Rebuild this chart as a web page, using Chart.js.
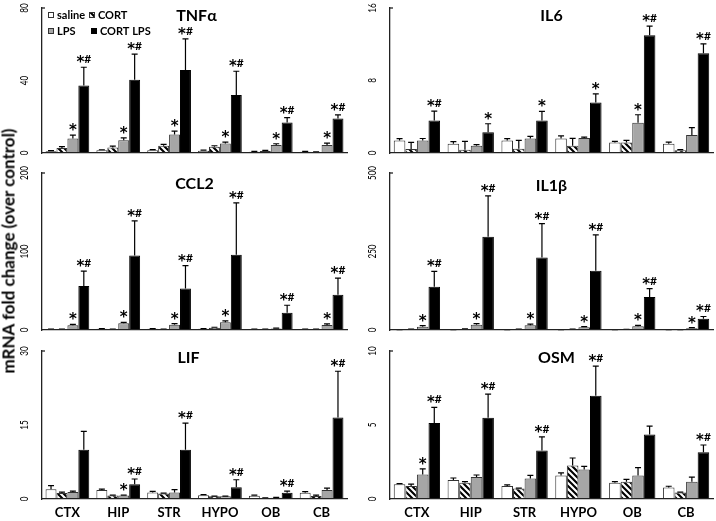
<!DOCTYPE html>
<html>
<head>
<meta charset="utf-8">
<title>Cytokine mRNA by brain region</title>
<script src="https://cdn.jsdelivr.net/npm/chart.js@4.4.1/dist/chart.umd.min.js"></script>
<style>
  body { margin: 0; background: #fff; }
  #wrap { position: relative; width: 716px; height: 521px; overflow: hidden; }
  #wrap canvas { position: absolute; }
  #ytitle {
    position: absolute; left: 8px; top: 251px;
    transform: translate(-50%, -50%) rotate(-90deg);
    white-space: nowrap; font: bold 17px Lato, sans-serif; color: #000;
  }
</style>
</head>
<body>
<div id="wrap">
  <canvas id="c0"></canvas>
  <canvas id="c1"></canvas>
  <canvas id="c2"></canvas>
  <canvas id="c3"></canvas>
  <canvas id="c4"></canvas>
  <canvas id="c5"></canvas>
  <div id="ytitle">mRNA fold change (over control)</div>
</div>
<script>
const regions = ['CTX', 'HIP', 'STR', 'HYPO', 'OB', 'CB'];
const groups = ['saline', 'CORT', 'LPS', 'CORT LPS'];

// rows: saline, CORT, LPS, CORT LPS
const tnfTicks = ['0', '40', '80'];
const tnfMean = [
      [1.0, 1.5, 1.5, 1.3, 0.7, 0.7],
      [2.7, 3.1, 4.0, 3.5, 1.1, 0.5],
      [8.0, 7.1, 10.2, 5.3, 4.4, 4.4],
      [37.3, 40.4, 45.8, 32.0, 16.8, 19.0]
];
const tnfErr = [
      [0.3, 0.3, 0.4, 0.3, 0.2, 0.2],
      [0.8, 0.7, 0.8, 0.5, 0.3, 0.2],
      [1.9, 1.3, 1.9, 0.7, 0.7, 1.1],
      [10.0, 14.2, 17.2, 13.1, 2.7, 2.0]
];
const tnfLpsMarks = ['*', '*', '*', '*', '*', '*'];
const tnfComboMarks = ['*#', '*#', '*#', '*#', '*#', '*#'];

const il6Ticks = ['0', '8', '16'];
const il6Mean = [
      [1.39, 1.03, 1.39, 1.61, 1.17, 1.03],
      [0.44, 0.37, 0.48, 0.81, 1.17, 0.29],
      [1.39, 0.81, 1.61, 1.65, 3.34, 1.98],
      [3.6, 2.28, 3.6, 5.58, 13.0, 11.0]
];
const il6Err = [
      [0.19, 0.22, 0.19, 0.29, 0.11, 0.18],
      [0.73, 0.91, 0.91, 0.8, 0.22, 0.08],
      [0.21, 0.11, 0.22, 0.11, 0.88, 0.81],
      [1.02, 0.95, 0.99, 0.95, 1.0, 1.04]
];
const il6LpsMarks = ['', '', '', '', '*', ''];
const il6ComboMarks = ['*#', '*', '*', '*', '*#', '*#'];

const ccl2Ticks = ['0', '100', '200'];
const ccl2Mean = [
      [1.0, 1.5, 1.5, 1.5, 1.0, 1.0],
      [1.0, 0.8, 1.0, 3.0, 1.0, 0.8],
      [6.0, 8.5, 6.8, 9.8, 2.0, 6.4],
      [56, 95, 53, 96, 22, 45]
];
const ccl2Err = [
      [0.3, 0.3, 0.3, 0.3, 0.2, 0.2],
      [0.3, 0.2, 0.3, 0.5, 0.2, 0.2],
      [1.2, 1.3, 1.2, 1.7, 0.5, 1.3],
      [19, 44, 29, 66, 9.5, 21]
];
const ccl2LpsMarks = ['*', '*', '*', '*', '', '*'];
const ccl2ComboMarks = ['*#', '*#', '*#', '*#', '*#', '*#'];

const il1Ticks = ['0', '250', '500'];
const il1Mean = [
      [1.0, 1.0, 1.0, 1.0, 1.0, 1.0],
      [2.0, 3.0, 2.0, 2.0, 1.5, 1.0],
      [10.7, 17.0, 15.0, 8.5, 11.7, 5.3],
      [138, 297, 231, 189, 105, 36]
];
const il1Err = [
      [0.5, 0.5, 0.5, 0.5, 0.5, 0.5],
      [1.0, 1.0, 1.0, 1.0, 0.8, 0.5],
      [3.3, 3.0, 4.0, 2.2, 3.3, 2.2],
      [49, 130, 108, 114, 27, 7]
];
const il1LpsMarks = ['*', '*', '*', '*', '*', '*'];
const il1ComboMarks = ['*#', '*#', '*#', '*#', '*#', '*#'];

const lifTicks = ['0', '15', '30'];
const lifMean = [
      [2.0, 1.8, 1.3, 0.74, 0.68, 1.28],
      [1.2, 0.7, 1.1, 0.54, 0.2, 0.6],
      [1.4, 0.7, 1.3, 0.54, 0.27, 1.8],
      [10.0, 3.0, 10.0, 2.36, 1.28, 16.5]
];
const lifErr = [
      [0.7, 0.2, 0.25, 0.14, 0.12, 0.22],
      [0.2, 0.1, 0.1, 0.06, 0.05, 0.2],
      [0.2, 0.1, 0.6, 0.06, 0.05, 0.4],
      [3.7, 1.05, 5.4, 1.54, 0.32, 9.4]
];
const lifLpsMarks = ['', '*', '', '', '', ''];
const lifComboMarks = ['', '*#', '*#', '*#', '*#', '*#'];

const osmTicks = ['0', '5', '10'];
const osmMean = [
      [1.0, 1.28, 0.88, 1.59, 1.1, 0.77],
      [0.88, 1.1, 0.71, 2.26, 1.17, 0.44],
      [1.66, 1.48, 1.39, 1.99, 1.59, 1.17],
      [5.13, 5.49, 3.27, 6.97, 4.36, 3.16]
];
const osmErr = [
      [0.04, 0.14, 0.07, 0.18, 0.07, 0.09],
      [0.12, 0.07, 0.02, 0.51, 0.16, 0.02],
      [0.38, 0.14, 0.2, 0.22, 0.53, 0.31],
      [1.06, 1.59, 0.93, 2.01, 0.57, 0.49]
];
const osmLpsMarks = ['*', '', '', '', '', ''];
const osmComboMarks = ['*#', '*#', '*#', '*#', '', '*#'];

const panels = [
      { title: 'TNFα', ticks: tnfTicks, mean: tnfMean, err: tnfErr, marks: [null, null, tnfLpsMarks, tnfComboMarks], legend: true },
      { title: 'IL6', ticks: il6Ticks, mean: il6Mean, err: il6Err, marks: [null, null, il6LpsMarks, il6ComboMarks] },
      { title: 'CCL2', ticks: ccl2Ticks, mean: ccl2Mean, err: ccl2Err, marks: [null, null, ccl2LpsMarks, ccl2ComboMarks] },
      { title: 'IL1β', ticks: il1Ticks, mean: il1Mean, err: il1Err, marks: [null, null, il1LpsMarks, il1ComboMarks] },
      { title: 'LIF', ticks: lifTicks, mean: lifMean, err: lifErr, marks: [null, null, lifLpsMarks, lifComboMarks], xLabels: true },
      { title: 'OSM', ticks: osmTicks, mean: osmMean, err: osmErr, marks: [null, null, osmLpsMarks, osmComboMarks], xLabels: true }
];

// where each panel sits on the page
const frames = [
      { x: 0, y: 0, w: 356, h: 165, padL: 42, padR: 9, padT: 8, xh: 12, tdx: 2, tdy: 8 },
      { x: 356, y: 0, w: 360, h: 165, padL: 34, padR: 3, padT: 8, xh: 12, tdx: 0, tdy: 8 },
      { x: 0, y: 165, w: 356, h: 175, padL: 42, padR: 9, padT: 8, xh: 10, tdx: 0, tdy: 11 },
      { x: 356, y: 165, w: 360, h: 175, padL: 34, padR: 3, padT: 8, xh: 10, tdx: 0, tdy: 13 },
      { x: 0, y: 340, w: 356, h: 181, padL: 42, padR: 9, padT: 11, xh: 22, tdx: -6, tdy: 7 },
      { x: 356, y: 340, w: 360, h: 181, padL: 34, padR: 3, padT: 11, xh: 22, tdx: 5, tdy: 7 }
];

function makeHatch()
{
      const c = document.createElement('canvas');
      c.width = 6;
      c.height = 6;
      const g = c.getContext('2d');
      g.fillStyle = '#fff';
      g.fillRect(0, 0, 6, 6);
      g.strokeStyle = '#000';
      g.lineWidth = 2.1;
      g.beginPath();
      g.moveTo(-1, -1); g.lineTo(7, 7);
      g.moveTo(-1, 5); g.lineTo(1, 7);
      g.moveTo(5, -1); g.lineTo(7, 1);
      g.stroke();
      return g.createPattern(c, 'repeat');
}

const hatch = makeHatch();
const fills = ['#ffffff', hatch, '#a6a6a6', '#000000'];
const edges = ['#333333', '#333333', '#333333', '#000000'];

function drawMark(ctx, text, cx, base)
{
      const fonts = { '*': 'bold 15px "DejaVu Sans"', '#': 'bold 12px Lato' };
      const chars = text.split('');
      const widths = chars.map(ch => { ctx.font = fonts[ch]; return ctx.measureText(ch).width; });
      let x = cx - widths.reduce((a, b) => a + b, 0) / 2;
      chars.forEach((ch, j) =>
      {
            ctx.font = fonts[ch];
            ctx.fillText(ch, x, ch === '*' ? base + 4 : base);
            x += widths[j];
      });
}

function decor(p, f)
{
      return {
            id: 'decor',
            afterDatasetsDraw(chart)
            {
                  const ctx = chart.ctx;
                  const y = chart.scales.y;
                  ctx.save();
                  ctx.strokeStyle = '#000';
                  ctx.fillStyle = '#000';
                  ctx.lineWidth = 1.2;
                  ctx.textAlign = 'left';
                  ctx.textBaseline = 'alphabetic';
                  p.mean.forEach((vals, k) =>
                  {
                        const meta = chart.getDatasetMeta(k);
                        meta.data.forEach((bar, i) =>
                        {
                              const top = y.getPixelForValue(vals[i] + p.err[k][i]);
                              ctx.beginPath();
                              ctx.moveTo(bar.x, bar.y);
                              ctx.lineTo(bar.x, top);
                              ctx.moveTo(bar.x - 3, top);
                              ctx.lineTo(bar.x + 3, top);
                              ctx.stroke();
                              const m = p.marks[k] ? p.marks[k][i] : '';
                              if (m) drawMark(ctx, m, bar.x, top - 4);
                        });
                  });
                  ctx.restore();
            },
            afterDraw(chart)
            {
                  const ctx = chart.ctx;
                  const area = chart.chartArea;
                  const y = chart.scales.y;
                  ctx.save();
                  ctx.fillStyle = '#000';
                  ctx.textAlign = 'center';
                  ctx.textBaseline = 'middle';
                  ctx.font = '11px Lato';
                  p.ticks.forEach(t =>
                  {
                        ctx.save();
                        ctx.translate(area.left - 18, y.getPixelForValue(Number(t)));
                        ctx.rotate(-Math.PI / 2);
                        ctx.scale(0.74, 1);
                        ctx.fillText(t, 0, 0);
                        ctx.restore();
                  });

                  // little tick at the top of the value axis
                  ctx.strokeStyle = '#222';
                  ctx.lineWidth = 1.3;
                  ctx.beginPath();
                  ctx.moveTo(area.left, area.top);
                  ctx.lineTo(area.left + 3, area.top);
                  ctx.stroke();

                  ctx.fillStyle = '#000';
                  ctx.font = 'bold 16px Lato';
                  ctx.fillText(p.title, (area.left + area.right) / 2 + f.tdx, area.top + f.tdy);

                  if (p.legend)
                  {
                        const items = [
                              { k: 0, bx: 6, tx: 15, row: 7 },
                              { k: 1, bx: 47, tx: 56, row: 7 },
                              { k: 2, bx: 6, tx: 15, row: 23 },
                              { k: 3, bx: 49, tx: 58, row: 23 }
                        ];
                        ctx.textAlign = 'left';
                        ctx.font = 'bold 11px Lato';
                        ctx.lineWidth = 1;
                        items.forEach(it =>
                        {
                              const bx = area.left + it.bx;
                              const by = area.top + it.row;
                              ctx.fillStyle = fills[it.k];
                              ctx.fillRect(bx, by - 3, 6, 6);
                              ctx.strokeStyle = edges[it.k];
                              ctx.strokeRect(bx + 0.5, by - 2.5, 5, 5);
                              ctx.fillStyle = '#000';
                              ctx.fillText(groups[it.k], area.left + it.tx, by);
                        });
                  }
                  ctx.restore();
            }
      };
}

panels.forEach((p, n) =>
{
      const f = frames[n];
      const canvas = document.getElementById('c' + n);
      canvas.width = f.w;
      canvas.height = f.h;
      canvas.style.left = f.x + 'px';
      canvas.style.top = f.y + 'px';

      const datasets = groups.map((g, k) => ({
            label: g,
            data: p.mean[k],
            backgroundColor: fills[k],
            borderColor: edges[k],
            borderWidth: 1
      }));

      new Chart(canvas, {
            type: 'bar',
            data: { labels: regions, datasets: datasets },
            options: {
                  responsive: false,
                  animation: false,
                  layout: { padding: { left: f.padL, right: f.padR, top: f.padT, bottom: 0 } },
                  datasets: { bar: { categoryPercentage: 0.86, barPercentage: 1 } },
                  scales: {
                        x: {
                              grid: { display: false, drawTicks: false },
                              border: { display: true, color: '#222', width: 1.3, z: 1 },
                              ticks: {
                                    display: !!p.xLabels,
                                    color: '#000',
                                    padding: 6,
                                    font: { family: 'Lato', size: 13, weight: 'bold' }
                              },
                              afterFit: s => { s.height = f.xh; }
                        },
                        y: {
                              min: 0,
                              max: Number(p.ticks[2]),
                              grid: { display: false, drawTicks: false },
                              border: { display: true, color: '#222', width: 1.3 },
                              ticks: { display: false, stepSize: Number(p.ticks[1]) },
                              afterFit: s => { s.width = 0; }
                        }
                  },
                  plugins: {
                        legend: { display: false },
                        tooltip: { enabled: false }
                  }
            },
            plugins: [decor(p, f)]
      });
});
</script>
</body>
</html>
